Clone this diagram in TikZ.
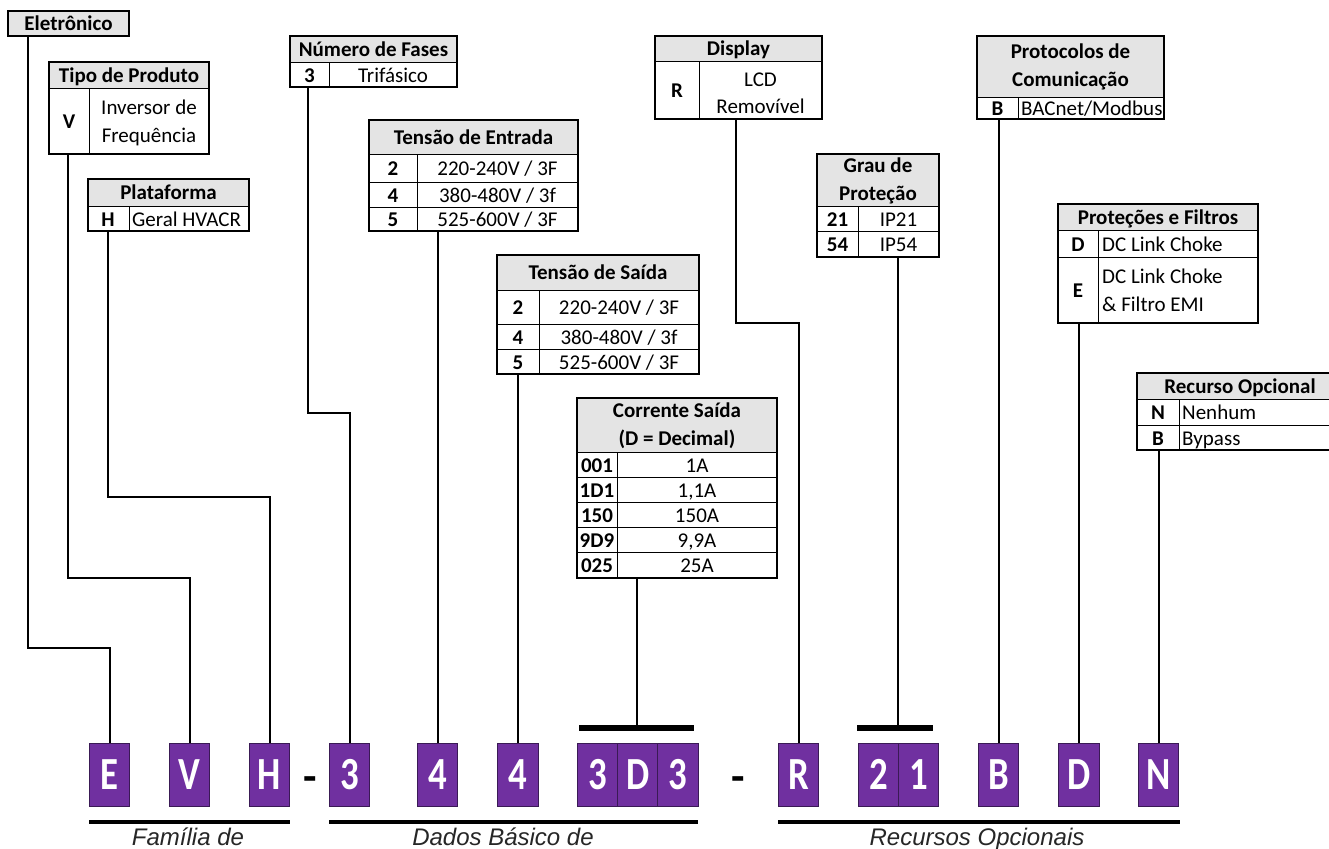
\documentclass[tikz,border=0pt]{standalone}
\usepackage{fontspec}
\usepackage{graphicx}
\setmainfont{Carlito}
\newfontfamily\arialf{Liberation Sans}
\definecolor{purp}{HTML}{7030A0}
\definecolor{purpd}{HTML}{3A1A55}
\definecolor{hdrg}{HTML}{E4E4E4}
\newcommand\sqz[1]{\scalebox{0.8}[1]{#1}}
\newcommand\tframe[5]{\node[frame, minimum width={(#4-#2)*1pt}, minimum height={(#5-#3)*1pt}] (#1) at ({(#2+#4)/2},{(#3+#5)/2}) {};}
\begin{document}
\begin{tikzpicture}[x=1pt,y=-1pt,
  frame/.style={draw, line width=2pt, inner sep=0pt, outer sep=0pt},
  hdr/.style={fill=hdrg},
  inl/.style={line width=1pt},
  conn/.style={line width=2pt},
  barl/.style={line width=6pt},
  uline/.style={line width=4pt},
  mtxt/.style={font=\fontsize{21}{27.5}\selectfont, inner sep=0pt, align=center},
  mbtxt/.style={font=\fontsize{21}{28}\selectfont\bfseries, inner sep=0pt, align=center},
  txt/.style={mtxt, text height=17pt, text depth=3pt},
  btxt/.style={mbtxt, text height=17pt, text depth=3pt},
  lbox/.style={fill=purp, draw=purpd, line width=1pt, minimum width=40.5pt, minimum height=63pt, inner sep=0pt, text=white, font=\fontsize{46}{46}\selectfont\bfseries},
  dsh/.style={font=\fontsize{44}{44}\selectfont\bfseries, inner sep=0pt},
  captxt/.style={font=\fontsize{24}{24}\selectfont\arialf\itshape, anchor=base, inner sep=0pt, text=black!85}
]
\clip (0,0) rectangle (1329,848);
\fill[white] (0,0) rectangle (1329,848);

% Eletronico
\fill[hdr] (8,11) rectangle (129,36);
\tframe{eletr}{8}{11}{129}{36}
\node[btxt] (tEl) at (68.5,23.5) {Eletrônico};

% Tipo de Produto
\fill[hdr] (49,62) rectangle (209,89);
\draw[inl] (49,89) -- (209,89) (89,89) -- (89,154);
\tframe{tipo}{49}{62}{209}{154}
\node[btxt] (tTipoH) at (129,75.5) {Tipo de Produto};
\node[btxt] (tTipoV) at (69,121.5) {V};
\node[mtxt] (tTipoD) at (149,123) {Inversor de\\Frequência};

% Plataforma
\fill[hdr] (88,179) rectangle (249,206);
\draw[inl] (88,206) -- (249,206) (129,206) -- (129,231);
\tframe{plat}{88}{179}{249}{231}
\node[btxt] (tPlH) at (168.5,192.5) {Plataforma};
\node[btxt] (tPlC) at (108,219) {H};
\node[txt, anchor=west] (tPlD) at (132,219) {Geral HVACR};

% Numero de Fases
\fill[hdr] (290,36) rectangle (457,63);
\draw[inl] (290,63) -- (457,63) (329,63) -- (329,87);
\tframe{fases}{290}{36}{457}{87}
\node[btxt] (tFaH) at (373.5,49.5) {Número de Fases};
\node[btxt] (tFaC) at (309.5,75.5) {3};
\node[txt] (tFaD) at (393,75.5) {Trifásico};

% Tensao de Entrada
\fill[hdr] (369,120) rectangle (578,154);
\draw[inl] (369,154) -- (578,154) (369,182) -- (578,182) (369,207) -- (578,207) (417,154) -- (417,231);
\tframe{tent}{369}{120}{578}{231}
\node[btxt] (tTeH) at (473.5,137) {Tensão de Entrada};
\node[btxt] (tTeC1) at (393,168.5) {2};
\node[btxt] (tTeC2) at (393,195) {4};
\node[btxt] (tTeC3) at (393,219.5) {5};
\node[txt] (tTeD1) at (497.5,168.5) {220-240V / 3F};
\node[txt] (tTeD2) at (497.5,195) {380-480V / 3f};
\node[txt] (tTeD3) at (497.5,219.5) {525-600V / 3F};

% Tensao de Saida
\fill[hdr] (497,255) rectangle (699,290);
\draw[inl] (497,290) -- (699,290) (497,324) -- (699,324) (497,349) -- (699,349) (539,290) -- (539,374);
\tframe{tsai}{497}{255}{699}{374}
\node[btxt] (tTsH) at (598,272.5) {Tensão de Saída};
\node[btxt] (tTsC1) at (518,307.5) {2};
\node[btxt] (tTsC2) at (518,337) {4};
\node[btxt] (tTsC3) at (518,362) {5};
\node[txt] (tTsD1) at (619,307.5) {220-240V / 3F};
\node[txt] (tTsD2) at (619,337) {380-480V / 3f};
\node[txt] (tTsD3) at (619,362) {525-600V / 3F};

% Corrente Saida
\fill[hdr] (577,398) rectangle (777,452);
\draw[inl] (577,452) -- (777,452) (577,477) -- (777,477) (577,502) -- (777,502) (577,527) -- (777,527) (577,552) -- (777,552) (617,452) -- (617,578);
\tframe{corr}{577}{398}{777}{578}
\node[mbtxt] (tCoH) at (677,426) {Corrente Saída\\(D = Decimal)};
\node[btxt] (tCoC1) at (597,465) {001};
\node[btxt] (tCoC2) at (597,490) {1D1};
\node[btxt] (tCoC3) at (597,515) {150};
\node[btxt] (tCoC4) at (597,540) {9D9};
\node[btxt] (tCoC5) at (597,565.5) {025};
\node[txt] (tCoD1) at (697,465) {1A};
\node[txt] (tCoD2) at (697,490) {1,1A};
\node[txt] (tCoD3) at (697,515) {150A};
\node[txt] (tCoD4) at (697,540) {9,9A};
\node[txt] (tCoD5) at (697,565.5) {25A};

% Display
\fill[hdr] (655,36) rectangle (822,62);
\draw[inl] (655,62) -- (822,62) (699,62) -- (699,119);
\tframe{disp}{655}{36}{822}{119}
\node[btxt] (tDiH) at (738.5,49) {Display};
\node[btxt] (tDiC) at (677,91) {R};
\node[mtxt] (tDiD) at (760.5,93.5) {LCD\\Removível};

% Protocolos
\fill[hdr] (977,36) rectangle (1164,98);
\draw[inl] (977,98) -- (1164,98) (1018,98) -- (1018,119);
\tframe{prot}{977}{36}{1164}{119}
\node[mbtxt] (tPrH) at (1070.5,67) {Protocolos de\\Comunicação};
\node[btxt] (tPrC) at (997.5,109) {B};
\node[txt, anchor=west] (tPrD) at (1021,109) {BACnet/Modbus};

% Grau de Protecao
\fill[hdr] (817,154) rectangle (939,206);
\draw[inl] (817,206) -- (939,206) (817,231) -- (939,231) (858,206) -- (858,257);
\tframe{grau}{817}{154}{939}{257}
\node[mbtxt] (tGrH) at (878,181) {Grau de\\Proteção};
\node[btxt] (tGrC1) at (837.5,219) {21};
\node[btxt] (tGrC2) at (837.5,244.5) {54};
\node[txt] (tGrD1) at (898.5,219) {IP21};
\node[txt] (tGrD2) at (898.5,244.5) {IP54};

% Protecoes e Filtros
\fill[hdr] (1058,204) rectangle (1258,230);
\draw[inl] (1058,230) -- (1258,230) (1058,257) -- (1258,257) (1098,230) -- (1098,323);
\tframe{pfil}{1058}{204}{1258}{323}
\node[btxt] (tPfH) at (1158,217) {Proteções e Filtros};
\node[btxt] (tPfC1) at (1078,244) {D};
\node[txt, anchor=west] (tPfD1) at (1102,244) {DC Link Choke};
\node[btxt] (tPfC2) at (1078,290) {E};
\node[mtxt, anchor=west, align=left] (tPfD2) at (1102,290.5) {DC Link Choke\\\& Filtro EMI};

% Recurso Opcional
\fill[hdr] (1137,373) rectangle (1345,399);
\draw[inl] (1137,399) -- (1345,399) (1137,425) -- (1345,425) (1179,399) -- (1179,450);
\tframe{recur}{1137}{373}{1345}{450}
\node[btxt] (tReH) at (1240,386) {Recurso Opcional};
\node[btxt] (tReC1) at (1158,412.5) {N};
\node[txt, anchor=west] (tReD1) at (1182,412.5) {Nenhum};
\node[btxt] (tReC2) at (1158,438) {B};
\node[txt, anchor=west] (tReD2) at (1182,438) {Bypass};

% Code letters
\node[lbox] (bE) at (109.5,774.5) {\sqz{E}};
\node[lbox] (bV) at (189.5,774.5) {\sqz{V}};
\node[lbox] (bH) at (269.5,774.5) {\sqz{H}};
\node[dsh] (d1) at (310,784) {-};
\node[lbox] (b3) at (349.5,774.5) {\sqz{3}};
\node[lbox] (b4a) at (437.5,774.5) {\sqz{4}};
\node[lbox] (b4b) at (518,774.5) {\sqz{4}};
\node[lbox] (bc1) at (598,774.5) {\sqz{3}};
\node[lbox] (bc2) at (638,774.5) {\sqz{D}};
\node[lbox] (bc3) at (678,774.5) {\sqz{3}};
\node[dsh] (d2) at (738,784) {-};
\node[lbox] (bR) at (798.5,774.5) {\sqz{R}};
\node[lbox] (bP1) at (878.5,774.5) {\sqz{2}};
\node[lbox] (bP2) at (918.5,774.5) {\sqz{1}};
\node[lbox] (bB) at (998.5,774.5) {\sqz{B}};
\node[lbox] (bD) at (1079,774.5) {\sqz{D}};
\node[lbox] (bN) at (1158.5,774.5) {\sqz{N}};

% Connectors
\draw[conn] ([xshift=20pt]eletr.south west) -- ++(0,612) -| (bE.north);
\draw[conn] ([xshift=19pt]tipo.south west) -- ++(0,424) -| (bV.north);
\draw[conn] ([xshift=20pt]plat.south west) -- ++(0,266) -| (bH.north);
\draw[conn] ([xshift=17.5pt]fases.south west) -- ++(0,326) -| (b3.north);
\draw[conn] ([xshift=81pt]disp.south west) -- ++(0,204) -| (bR.north);
\draw[conn] (b4a.north) -- (b4a.north |- tent.south);
\draw[conn] (b4b.north) -- (b4b.north |- tsai.south);
\coordinate (barC) at (636.5,728);
\draw[barl] (579,728) -- (694,728);
\draw[conn] (barC) -- (barC |- corr.south);
\coordinate (barG) at (897.5,728);
\draw[barl] (857,728) -- (933,728);
\draw[conn] (barG) -- (barG |- grau.south);
\draw[conn] (bB.north) -- (bB.north |- prot.south);
\draw[conn] (bD.north) -- (bD.north |- pfil.south);
\draw[conn] (bN.north) -- (bN.north |- recur.south);

% Underlines and captions
\draw[uline] (89,822) -- (290,822);
\draw[uline] (329,822) -- (698,822);
\draw[uline] (778,822) -- (1180,822);
\node[captxt] (c1) at (188,845) {Família de};
\node[captxt] (c2) at (503,845) {Dados Básico de};
\node[captxt] (c3) at (977,845) {Recursos Opcionais};
\end{tikzpicture}
\end{document}
